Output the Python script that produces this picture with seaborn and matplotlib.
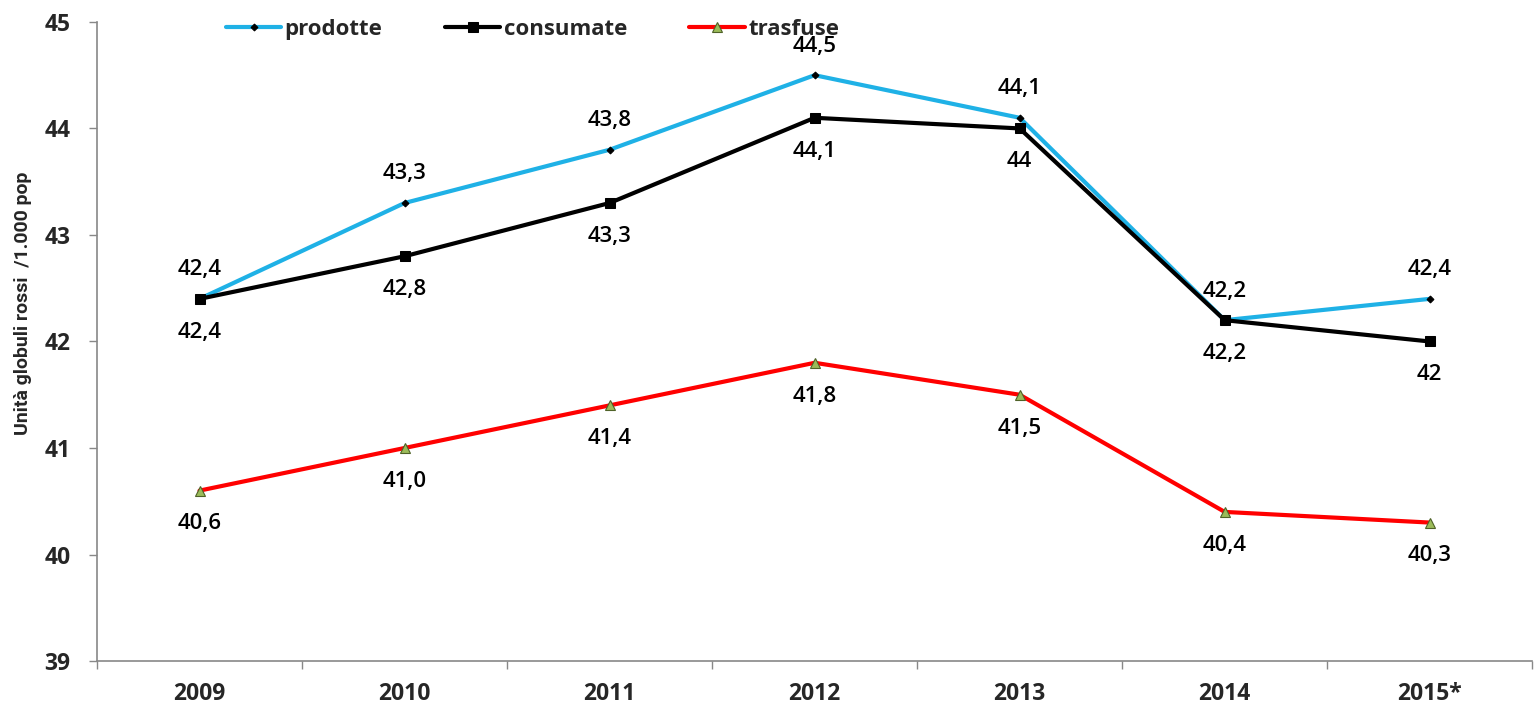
import pandas as pd
import matplotlib.pyplot as plt
import seaborn as sns
import numpy as np

years = ['2009', '2010', '2011', '2012', '2013', '2014', '2015*']
prodotte = [42.4, 43.3, 43.8, 44.5, 44.1, 42.2, 42.4]
consumate = [42.4, 42.8, 43.3, 44.1, 44.0, 42.2, 42.0]
trasfuse = [40.6, 41.0, 41.4, 41.8, 41.5, 40.4, 40.3]

lab_prodotte = ['42,4', '43,3', '43,8', '44,5', '44,1', '42,2', '42,4']
lab_consumate = ['42,4', '42,8', '43,3', '44,1', '44', '42,2', '42']
lab_trasfuse = ['40,6', '41,0', '41,4', '41,8', '41,5', '40,4', '40,3']

sns.set_theme(style="white")
plt.rcParams['font.family'] = ['Open Sans', 'DejaVu Sans']

fig = plt.figure(figsize=(15.35, 7.07), dpi=100)
ax = fig.add_axes([0.0632, 0.065, 0.935, 0.904])

pos = np.arange(len(years))

sns.lineplot(x=pos, y=prodotte, ax=ax, color='#1FB1E6', lw=3, marker='D', markersize=3.5,
             markerfacecolor='black', markeredgecolor='black', label='prodotte')
sns.lineplot(x=pos, y=consumate, ax=ax, color='black', lw=3, marker='s', markersize=6.5,
             markerfacecolor='black', markeredgecolor='black', label='consumate')
sns.lineplot(x=pos, y=trasfuse, ax=ax, color='#FF0000', lw=3, marker='^', markersize=7,
             markerfacecolor='#9BBB59', markeredgecolor='#4F6228', markeredgewidth=0.8,
             label='trasfuse')

lab_font = dict(fontsize=16, fontweight='semibold', color='black', ha='center', va='center')
for x, y, t in zip(pos, prodotte, lab_prodotte):
    ax.annotate(t, (x, y), xytext=(0, 21), textcoords='offset points', **lab_font)
for x, y, t in zip(pos, consumate, lab_consumate):
    ax.annotate(t, (x, y), xytext=(0, -24), textcoords='offset points', **lab_font)
for x, y, t in zip(pos, trasfuse, lab_trasfuse):
    ax.annotate(t, (x, y), xytext=(0, -24), textcoords='offset points', **lab_font)

ax.set_xlim(-0.5, len(years) - 0.5)
ax.set_ylim(39, 45)
ax.set_yticks(range(39, 46))
ax.set_xticks(pos)
ax.set_xticklabels(years)
ax.set_xticks(np.arange(-0.5, len(years), 1), minor=True)

for lbl in ax.get_xticklabels() + ax.get_yticklabels():
    lbl.set_fontweight('bold')
    lbl.set_fontsize(16.5)

ax.tick_params(axis='x', which='major', length=0, pad=15)
ax.tick_params(axis='x', which='minor', length=6, width=1, color='#888888', direction='out', bottom=True)
ax.tick_params(axis='y', length=6, width=1, color='#888888', direction='out', left=True, pad=13)

ax.set_ylabel('Unità globuli rossi  /1.000 pop', fontsize=14, fontweight='bold',
              family=['Roboto', 'Open Sans', 'DejaVu Sans'])
ax.yaxis.set_label_coords(-0.045, 0.56)

for s in ['top', 'right']:
    ax.spines[s].set_visible(False)
for s in ['left', 'bottom']:
    ax.spines[s].set_color('#888888')
    ax.spines[s].set_linewidth(1.2)

leg = ax.legend(loc='upper left', bbox_to_anchor=(0.082, 1.022), ncol=3, frameon=False,
                borderpad=0, handlelength=2.5, columnspacing=2.8, handletextpad=0.15,
                prop={'weight': 'bold', 'size': 16})

fig.savefig('out.png', dpi=100)
